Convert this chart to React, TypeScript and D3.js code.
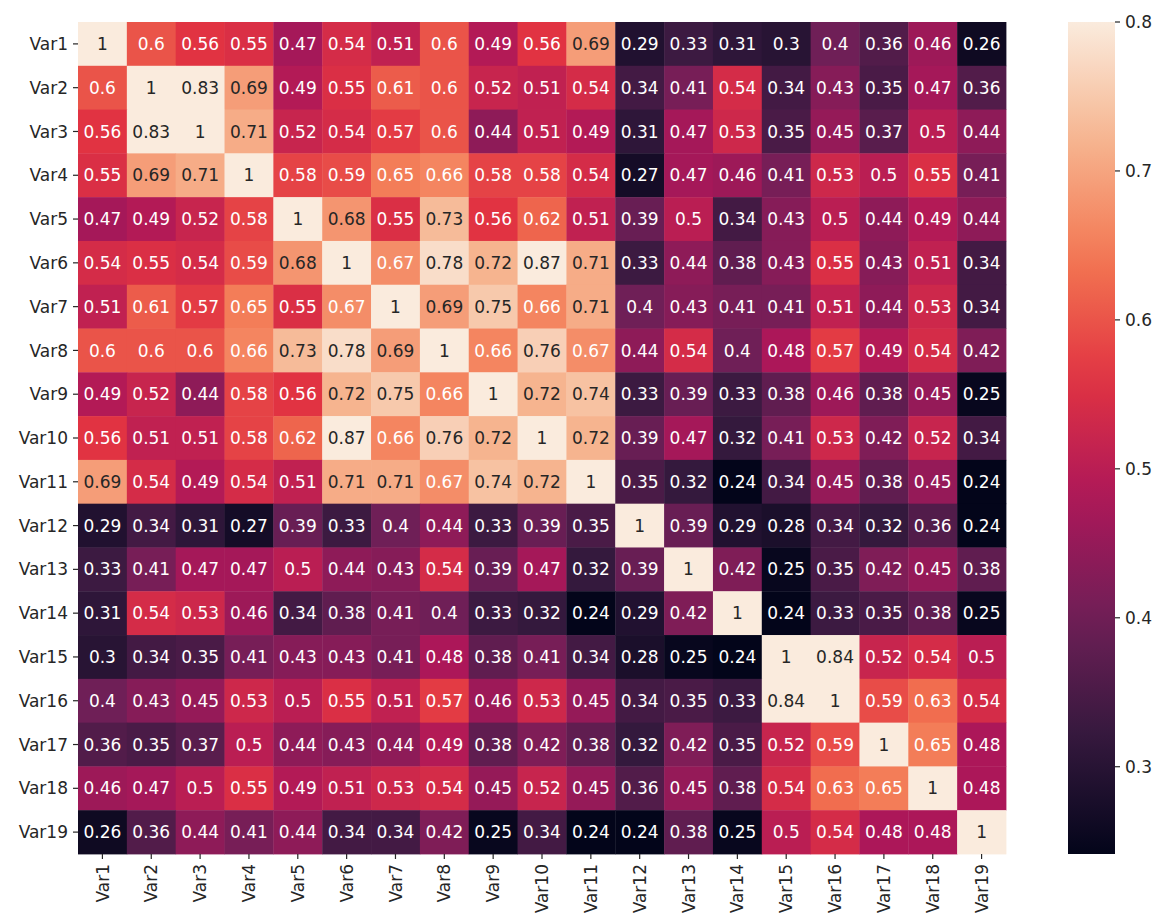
import React from "react";
import * as d3 from "d3";

// variable names (rows and columns)
const variables = [
  "Var1", "Var2", "Var3", "Var4", "Var5", "Var6", "Var7", "Var8", "Var9", "Var10",
  "Var11", "Var12", "Var13", "Var14", "Var15", "Var16", "Var17", "Var18", "Var19",
];

// correlation matrix, one row per variable
const corr: number[][] = [
  [1, 0.6, 0.56, 0.55, 0.47, 0.54, 0.51, 0.6, 0.49, 0.56, 0.69, 0.29, 0.33, 0.31, 0.3, 0.4, 0.36, 0.46, 0.26],
  [0.6, 1, 0.83, 0.69, 0.49, 0.55, 0.61, 0.6, 0.52, 0.51, 0.54, 0.34, 0.41, 0.54, 0.34, 0.43, 0.35, 0.47, 0.36],
  [0.56, 0.83, 1, 0.71, 0.52, 0.54, 0.57, 0.6, 0.44, 0.51, 0.49, 0.31, 0.47, 0.53, 0.35, 0.45, 0.37, 0.5, 0.44],
  [0.55, 0.69, 0.71, 1, 0.58, 0.59, 0.65, 0.66, 0.58, 0.58, 0.54, 0.27, 0.47, 0.46, 0.41, 0.53, 0.5, 0.55, 0.41],
  [0.47, 0.49, 0.52, 0.58, 1, 0.68, 0.55, 0.73, 0.56, 0.62, 0.51, 0.39, 0.5, 0.34, 0.43, 0.5, 0.44, 0.49, 0.44],
  [0.54, 0.55, 0.54, 0.59, 0.68, 1, 0.67, 0.78, 0.72, 0.87, 0.71, 0.33, 0.44, 0.38, 0.43, 0.55, 0.43, 0.51, 0.34],
  [0.51, 0.61, 0.57, 0.65, 0.55, 0.67, 1, 0.69, 0.75, 0.66, 0.71, 0.4, 0.43, 0.41, 0.41, 0.51, 0.44, 0.53, 0.34],
  [0.6, 0.6, 0.6, 0.66, 0.73, 0.78, 0.69, 1, 0.66, 0.76, 0.67, 0.44, 0.54, 0.4, 0.48, 0.57, 0.49, 0.54, 0.42],
  [0.49, 0.52, 0.44, 0.58, 0.56, 0.72, 0.75, 0.66, 1, 0.72, 0.74, 0.33, 0.39, 0.33, 0.38, 0.46, 0.38, 0.45, 0.25],
  [0.56, 0.51, 0.51, 0.58, 0.62, 0.87, 0.66, 0.76, 0.72, 1, 0.72, 0.39, 0.47, 0.32, 0.41, 0.53, 0.42, 0.52, 0.34],
  [0.69, 0.54, 0.49, 0.54, 0.51, 0.71, 0.71, 0.67, 0.74, 0.72, 1, 0.35, 0.32, 0.24, 0.34, 0.45, 0.38, 0.45, 0.24],
  [0.29, 0.34, 0.31, 0.27, 0.39, 0.33, 0.4, 0.44, 0.33, 0.39, 0.35, 1, 0.39, 0.29, 0.28, 0.34, 0.32, 0.36, 0.24],
  [0.33, 0.41, 0.47, 0.47, 0.5, 0.44, 0.43, 0.54, 0.39, 0.47, 0.32, 0.39, 1, 0.42, 0.25, 0.35, 0.42, 0.45, 0.38],
  [0.31, 0.54, 0.53, 0.46, 0.34, 0.38, 0.41, 0.4, 0.33, 0.32, 0.24, 0.29, 0.42, 1, 0.24, 0.33, 0.35, 0.38, 0.25],
  [0.3, 0.34, 0.35, 0.41, 0.43, 0.43, 0.41, 0.48, 0.38, 0.41, 0.34, 0.28, 0.25, 0.24, 1, 0.84, 0.52, 0.54, 0.5],
  [0.4, 0.43, 0.45, 0.53, 0.5, 0.55, 0.51, 0.57, 0.46, 0.53, 0.45, 0.34, 0.35, 0.33, 0.84, 1, 0.59, 0.63, 0.54],
  [0.36, 0.35, 0.37, 0.5, 0.44, 0.43, 0.44, 0.49, 0.38, 0.42, 0.38, 0.32, 0.42, 0.35, 0.52, 0.59, 1, 0.65, 0.48],
  [0.46, 0.47, 0.5, 0.55, 0.49, 0.51, 0.53, 0.54, 0.45, 0.52, 0.45, 0.36, 0.45, 0.38, 0.54, 0.63, 0.65, 1, 0.48],
  [0.26, 0.36, 0.44, 0.41, 0.44, 0.34, 0.34, 0.42, 0.25, 0.34, 0.24, 0.24, 0.38, 0.25, 0.5, 0.54, 0.48, 0.48, 1],
];

// colorbar ticks
const colorbarTicks = [0.3, 0.4, 0.5, 0.6, 0.7, 0.8];

// color range limits
const vmin = 0.2414;
const vmax = 0.8;

// approximation of seaborn "rocket"
const rocketColors = ["#03051a", "#35193e", "#701f57", "#ad1759", "#e13342", "#f37651", "#f6b48f", "#faebdd"];
const rocket = d3
  .scaleLinear<string>()
  .domain(rocketColors.map((_, i) => i / (rocketColors.length - 1)))
  .range(rocketColors)
  .interpolate(d3.interpolateRgb)
  .clamp(true);

const norm = d3.scaleLinear().domain([vmin, vmax]).range([0, 1]).clamp(true);
const colorOf = (v: number) => rocket(norm(v));

// seaborn picks text color from the cell's luminance
const luminance = (c: string) => {
  const rgb = d3.rgb(c);
  const lin = [rgb.r, rgb.g, rgb.b].map((x) => {
    const s = x / 255;
    return s <= 0.03928 ? s / 12.92 : Math.pow((s + 0.055) / 1.055, 2.4);
  });
  return 0.2126 * lin[0] + 0.7152 * lin[1] + 0.0722 * lin[2];
};

const textColor = "#262626";
const font = "'DejaVu Sans', sans-serif";

const App: React.FC = () => {
  const W = 1159;
  const H = 914;
  const left = 78;
  const top = 22;
  const right = 1006;
  const bottom = 854;

  const x = d3.scaleBand<string>().domain(variables).range([left, right]);
  const y = d3.scaleBand<string>().domain(variables).range([top, bottom]);

  // colorbar
  const cbX = 1068;
  const cbW = 47;
  const cbY = d3.scaleLinear().domain([vmin, vmax]).range([bottom, top]);
  const gradStops = d3.range(0, 1.0001, 0.05);

  return (
    <svg
      width={W}
      height={H}
      style={{ position: "absolute", left: 0, top: 0, background: "#fff" }}
      fontFamily={font}
    >
      <defs>
        <linearGradient id="cbGrad" x1="0" y1="1" x2="0" y2="0">
          {gradStops.map((t) => (
            <stop key={t} offset={t} stopColor={rocket(t)} />
          ))}
        </linearGradient>
      </defs>

      {/* cells */}
      <g>
        {corr.map((row, i) =>
          row.map((v, j) => (
            <rect
              key={`${i}-${j}`}
              x={x(variables[j])}
              y={y(variables[i])}
              width={x.bandwidth() + 0.4}
              height={y.bandwidth() + 0.4}
              fill={colorOf(v)}
            />
          ))
        )}
      </g>

      {/* annotations */}
      <g fontSize={17} textAnchor="middle">
        {corr.map((row, i) =>
          row.map((v, j) => {
            const c = colorOf(v);
            return (
              <text
                key={`t${i}-${j}`}
                x={(x(variables[j]) || 0) + x.bandwidth() / 2}
                y={(y(variables[i]) || 0) + y.bandwidth() / 2}
                dy="0.36em"
                fill={luminance(c) > 0.408 ? textColor : "#ffffff"}
              >
                {String(v)}
              </text>
            );
          })
        )}
      </g>

      {/* y axis */}
      <g fontSize={17} fill={textColor}>
        {variables.map((name) => {
          const cy = (y(name) || 0) + y.bandwidth() / 2;
          return (
            <g key={name}>
              <line x1={left - 5} x2={left} y1={cy} y2={cy} stroke={textColor} strokeWidth={1.2} />
              <text x={left - 10} y={cy} dy="0.36em" textAnchor="end">
                {name}
              </text>
            </g>
          );
        })}
      </g>

      {/* x axis */}
      <g fontSize={17} fill={textColor}>
        {variables.map((name) => {
          const cx = (x(name) || 0) + x.bandwidth() / 2;
          return (
            <g key={name}>
              <line x1={cx} x2={cx} y1={bottom} y2={bottom + 5} stroke={textColor} strokeWidth={1.2} />
              <text
                transform={`translate(${cx},${bottom + 10}) rotate(-90)`}
                dy="0.36em"
                textAnchor="end"
              >
                {name}
              </text>
            </g>
          );
        })}
      </g>

      {/* colorbar */}
      <rect x={cbX} y={top} width={cbW} height={bottom - top} fill="url(#cbGrad)" />
      <g fontSize={17} fill={textColor}>
        {colorbarTicks.map((t) => (
          <g key={t}>
            <line x1={cbX + cbW} x2={cbX + cbW + 5} y1={cbY(t)} y2={cbY(t)} stroke={textColor} strokeWidth={1.2} />
            <text x={cbX + cbW + 10} y={cbY(t)} dy="0.36em">
              {t}
            </text>
          </g>
        ))}
      </g>
    </svg>
  );
};

export default App;
